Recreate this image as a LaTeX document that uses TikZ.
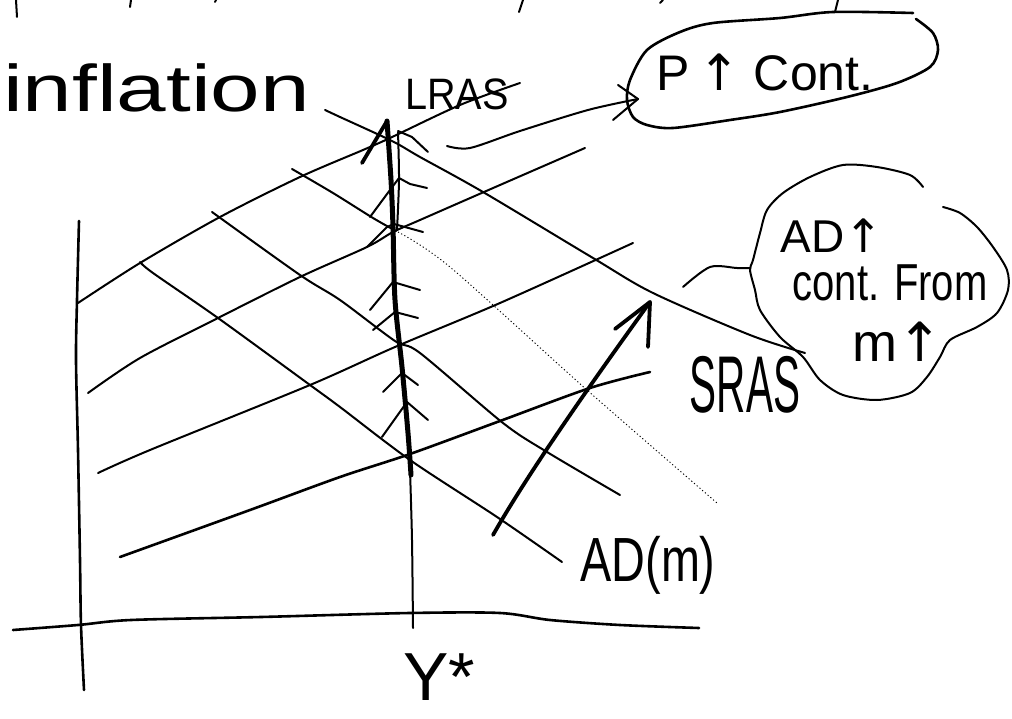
\documentclass[tikz,border=0pt]{standalone}
\usepackage{fontspec}
\setmainfont{Liberation Sans}
\newfontfamily\arrfont{DejaVu Sans}
\usepackage{graphicx}
\newcommand{\upar}{{\arrfont ↑}}
\begin{document}
\begin{tikzpicture}[x=1pt,y=-1pt,
  ln/.style={line width=2pt, line cap=round, line join=round},
  lnm/.style={line width=2.6pt, line cap=round, line join=round},
  thk/.style={line width=3.8pt, line cap=round, line join=round},
  shaft/.style={line width=5pt, line cap=round, line join=round},
  dotl/.style={line width=0.9pt, dash pattern=on 1.2pt off 2.4pt},
  lbl/.style={inner sep=0pt, outer sep=0pt},
]
\useasboundingbox (0,0) rectangle (1012,719);
\fill[white] (0,0) rectangle (1012,719);

% ---------- key points ----------
\coordinate (yaxTop) at (79,221);
\coordinate (yaxBot) at (84,690);
\coordinate (xaxL) at (13,630);
\coordinate (xaxR) at (699,628);
\coordinate (lrasTop) at (387,121);
\coordinate (lrasBot) at (413,628);

% ---------- cut-off strokes at the top edge ----------
\draw[ln] (16,0) -- (17,17);
\draw[ln] (131,0) -- (130,7);
\draw[ln] (216,0) -- (215,2);
\draw[ln] (523,0) -- (519,12);
\draw[ln] (663,0) -- (660,3);
\draw[ln] (838,0) -- (835,12);

% ---------- axes ----------
\draw[lnm] plot[smooth] coordinates {(yaxTop) (77,300) (76,360) (78,450) (80,560) (81,625) (yaxBot)};
\draw[lnm] plot[smooth] coordinates {(xaxL) (78,625) (131,620) (261,617) (410,613) (500,613) (550,620) (620,625) (xaxR)};

% ---------- upward sloping lines ----------
\draw[ln] plot[smooth] coordinates {(78,303) (140,263) (220,217) (300,177) (363,150) (390,138) (460,105) (520,83)};
\draw[ln] plot[smooth] coordinates {(88,393) (140,358) (218,318) (300,277) (367,247) (393,232) (420,220) (500,185) (585,148)};
\draw[ln] plot[smooth] coordinates {(98,473) (150,450) (310,385) (395,347) (500,303) (633,243)};
\draw[lnm] plot[smooth] coordinates {(120,557) (250,510) (340,477) (410,454) (500,421) (590,388) (650,372)};

% ---------- downward sloping lines ----------
\draw[ln] plot[smooth] coordinates {(325,110) (340,117) (392,141) (420,157) (483,192) (593,258) (653,293) (750,335) (805,353)};
\draw[ln] plot[smooth] coordinates {(292,169) (333,193) (373,218) (396,231)};
\draw[dotl] plot[smooth] coordinates {(398,232) (450,267) (587,390) (717,503)};
\draw[ln] plot[smooth] coordinates {(212,212) (300,275) (340,300) (395,341) (420,353) (503,423) (547,452) (620,495)};
\draw[ln] plot[smooth] coordinates {(140,262) (153,273) (218,318) (310,385) (340,407) (410,460) (497,517) (562,562)};

% ---------- LRAS vertical with arrow marks ----------
\draw[ln] plot[smooth] coordinates {(410,470) (412,540) (lrasBot)};
\draw[shaft] plot[smooth] coordinates {(lrasTop) (391,180) (393,227) (395,300) (402,367) (408,433) (411,475)};
\draw[ln] plot[smooth] coordinates {(398,132) (399,180) (397,230)};
\draw[thk] (362,163) -- (lrasTop);
\draw[ln] (398,131) -- (412,137) -- (428,152);
\draw[ln] (370,217) -- (390,190) -- (399,178);
\draw[ln] (399,178) -- (410,184) -- (427,188);
\draw[ln] (367,247) -- (387,227) -- (394,224);
\draw[ln] (394,224) -- (423,232);
\draw[ln] (370,310) -- (393,282) -- (420,290);
\draw[ln] (373,330) -- (395,312) -- (418,318);
\draw[ln] (383,392) -- (402,373) -- (418,385);
\draw[ln] (382,437) -- (407,402) -- (428,420);

% ---------- big shift arrow ----------
\coordinate (bigS) at (493,535);
\coordinate (bigE) at (650,302);
\draw[thk] (bigS) .. controls (530,470) and (595,378) .. (bigE);
\draw[thk] (615,329) -- (bigE) -- (648,347);

% ---------- bubble 1 ----------
\draw[lnm] plot[smooth] coordinates {(913,13) (833,12) (780,18) (713,23) (680,32) (647,50) (630,80) (627,100) (633,117) (647,125) (673,128) (730,120) (780,112) (847,97) (897,83) (930,67) (938,50) (933,33) (916,19)};
\node[lbl, font=\fontsize{50}{50}\selectfont] (pcont) at (765,72) {P\,\upar\ Cont.};
\coordinate (c1s) at (447,146);
\coordinate (c1e) at (638,99);
\draw[ln] plot[smooth] coordinates {(c1s) (470,148) (520,131) (588,110) (c1e)};
\draw[ln] (618,85) -- (c1e) -- (613,120);

% ---------- bubble 2 ----------
\draw[ln] plot[smooth] coordinates {(923,187) (910,175) (877,167) (843,165) (810,177) (783,193) (767,210) (760,233) (753,260) (750,270) (755,290) (760,310) (780,337) (803,357) (820,380) (843,395) (877,400) (910,393) (927,377) (940,357) (950,340) (977,327) (997,313) (1008,290) (1007,270) (993,247) (977,227) (960,213) (943,207)};
\coordinate (c2s) at (683,287);
\coordinate (c2e) at (750,268);
\draw[ln] plot[smooth] coordinates {(c2s) (710,267) (737,268) (c2e)};
\node[lbl, font=\fontsize{46}{46}\selectfont] (adup) at (832,236) {AD\upar};
\node[lbl, font=\fontsize{40}{40}\selectfont] (contfrom) at (890,283) {\scalebox{1}[1.3]{cont. From}};
\node[lbl, font=\fontsize{54}{54}\selectfont] (mup) at (898,342) {m\upar};

% ---------- labels ----------
\node[lbl, anchor=base west, font=\fontsize{66}{66}\selectfont] (infl) at (3,112) {\scalebox{1.35}[1]{inflation}};
\node[lbl, anchor=base west, font=\fontsize{44}{44}\selectfont] (lras) at (405,110) {\scalebox{0.9}[1]{LRAS}};
\node[lbl, font=\fontsize{46}{46}\selectfont] (sras) at (745,385) {\scalebox{0.88}[1.75]{SRAS}};
\node[lbl, font=\fontsize{52}{52}\selectfont] (adm) at (648,565) {\scalebox{0.9}[1.2]{AD(m)}};
\node[lbl, anchor=base west, font=\fontsize{68}{68}\selectfont] (ystar) at (403,700) {Y*};
\end{tikzpicture}
\end{document}
